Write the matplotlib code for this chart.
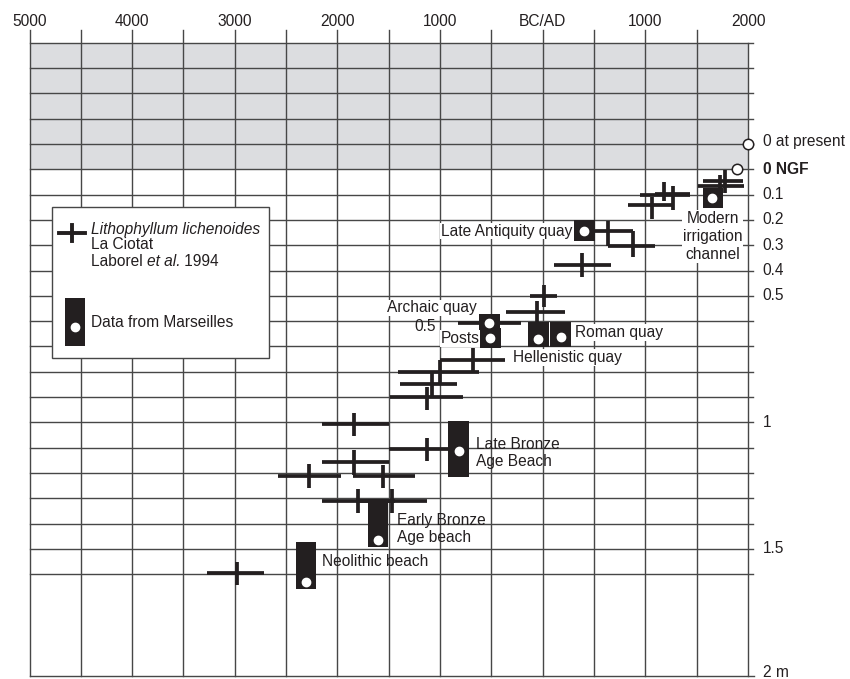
import numpy as np
import matplotlib
matplotlib.use("Agg")
import matplotlib.pyplot as plt
from matplotlib.patches import Rectangle

plt.rcParams['font.family'] = ['Liberation Sans', 'DejaVu Sans']

# ---- Lithophyllum lichenoides, La Ciotat (Laborel et al. 1994) ----
# central date (yr, negative = BC), central depth (m below 0 NGF) and ranges
lith_date = [1181, 1064, 1266, 1775, 1727, 635, 884, 385, 15, -59, -514,
             -677, -1002, -1082, -1131, -1839, -1131, -1839, -2275, -1560,
             -1798, -1472, -2982]
lith_depth = [0.100, 0.141, 0.098, 0.066, 0.046, 0.244, 0.303, 0.378, 0.499,
              0.565, 0.606, 0.753, 0.801, 0.849, 0.901, 1.006, 1.106, 1.155,
              1.212, 1.212, 1.311, 1.311, 1.594]
lith_date_lo = [947, 830, 1093, 1512, 1561, 411, 635, 109, -125, -361, -823,
                -1002, -1408, -1391, -1489, -2154, -1496, -2154, -2577, -1852,
                -2154, -1820, -3269]
lith_date_hi = [1434, 1268, 1434, 1960, 1950, 884, 1093, 662, 141, 216, -215,
                -368, -622, -833, -780, -1496, -904, -1496, -1969, -1245,
                -1440, -1125, -2716]
lith_depth_top = [0.050, 0.109, 0.066, 0.003, 0.023, 0.204, 0.244, 0.332,
                  0.457, 0.519, 0.572, 0.707, 0.753, 0.806, 0.860, 0.962,
                  1.060, 1.109, 1.164, 1.168, 1.264, 1.264, 1.550]
lith_depth_bot = [0.125, 0.196, 0.161, 0.094, 0.121, 0.303, 0.347, 0.424,
                  0.545, 0.602, 0.635, 0.806, 0.848, 0.898, 0.951, 1.054,
                  1.153, 1.208, 1.260, 1.260, 1.357, 1.359, 1.642]

# ---- Data from Marseilles ----
site_names = ["Modern\nirrigation\nchannel", "Late Antiquity quay",
              "Archaic quay", "Posts", "Hellenistic quay", "Roman quay",
              "Late Bronze\nAge Beach", "Early Bronze\nAge beach",
              "Neolithic beach"]
site_date_lo = [1561, 304, -617, -607, -141, 70, -921, -1700, -2404]
site_date_hi = [1756, 508, -417, -410, 60, 272, -722, -1505, -2210]
site_depth_top = [0.074, 0.202, 0.572, 0.628, 0.602, 0.602, 0.994, 1.303, 1.474]
site_depth_bot = [0.153, 0.285, 0.635, 0.707, 0.701, 0.701, 1.215, 1.491, 1.659]
site_dot_date = [1649, 401, -521, -514, -44, 174, -819, -1609, -2307]
site_dot_depth = [0.113, 0.243, 0.608, 0.665, 0.672, 0.664, 1.112, 1.465, 1.632]

# reference levels
ref_labels = ["0 at present", "0 NGF"]
ref_date = [2000, 1895]
ref_depth = [-0.1, 0.0]

# axis labels
top_tick_vals = [-5000, -4000, -3000, -2000, -1000, 0, 1000, 2000]
top_tick_text = ["5000", "4000", "3000", "2000", "1000", "BC/AD", "1000", "2000"]
right_tick_vals = [0.1, 0.2, 0.3, 0.4, 0.5, 1.0, 1.5, 2.0]
right_tick_text = ["0.1", "0.2", "0.3", "0.4", "0.5", "1", "1.5", "2 m"]

INK = "#231f20"
GRID = "#474747"
FS = 11.2

fig = plt.figure(figsize=(8.5, 6.79), dpi=100)
ax = fig.add_axes([29.5 / 850, 3.5 / 679, (748 - 29.5) / 850, (675.5 - 42.7) / 679])
ax.set_xlim(-5000, 2000)
ax.set_ylim(2.0, -0.5)
for s in ax.spines.values():
    s.set_visible(False)
ax.set_xticks([])
ax.set_yticks([])

# shaded band above 0 NGF
ax.axhspan(-0.5, 0.0, color="#dcdde0", zorder=0, lw=0)

# grid: vertical lines every 500 years, horizontal every 0.1 m
tick_up = -0.55
for t in np.arange(-5000, 2001, 500):
    top = -0.5 if t == 2000 else tick_up
    ax.plot([t, t], [2.0, top], color=GRID, lw=1.0, clip_on=False, zorder=1)
for d in np.arange(-0.5, 1.61, 0.1):
    ax.plot([-5000, 2050], [d, d], color=GRID, lw=1.0, clip_on=False, zorder=1)
ax.plot([-5000, 2060], [2.0, 2.0], color=GRID, lw=1.0, clip_on=False, zorder=1)

# top labels
for v, s in zip(top_tick_vals, top_tick_text):
    ax.annotate(s, xy=(v, 1.0), xycoords=("data", "axes fraction"),
                xytext=(0, 15.2), textcoords="offset points",
                ha="center", va="center", fontsize=FS, color=INK)

# right labels
for v, s in zip(right_tick_vals, right_tick_text):
    dy = 2.5 if v == 2.0 else 0
    ax.annotate(s, xy=(1.0, v), xycoords=("axes fraction", "data"),
                xytext=(10.5, dy), textcoords="offset points",
                ha="left", va="center", fontsize=FS, color=INK)
ax.annotate(ref_labels[0], xy=(1.0, ref_depth[0]), xycoords=("axes fraction", "data"),
            xytext=(10.5, 2), textcoords="offset points",
            ha="left", va="center", fontsize=FS, color=INK)
ax.annotate(ref_labels[1], xy=(1.0, ref_depth[1]), xycoords=("axes fraction", "data"),
            xytext=(10.5, 0), textcoords="offset points",
            ha="left", va="center", fontsize=FS, color=INK, fontweight="bold")
ax.plot(ref_date, ref_depth, ls="none", marker="o", ms=7.5, mfc="white",
        mec=INK, mew=1.1, clip_on=False, zorder=7)

# Lithophyllum crosses
ax.hlines(lith_depth, lith_date_lo, lith_date_hi, color=INK, lw=2.7, zorder=3)
ax.vlines(lith_date, lith_depth_top, lith_depth_bot, color=INK, lw=2.7, zorder=3)

# Marseilles blocks with white dots
lo = np.array(site_date_lo)
hi = np.array(site_date_hi)
top = np.array(site_depth_top)
bot = np.array(site_depth_bot)
ax.bar(lo, bot - top, width=hi - lo, bottom=top, align="edge",
       color=INK, lw=0, zorder=4)
ax.plot(site_dot_date, site_dot_depth, ls="none", marker="o", ms=6,
        mfc="white", mec="white", zorder=5)

# site labels: (x, y, ha, multialignment, white background)
label_pos = [
    (1658, 0.266, "center", "center", True),
    (285, 0.244, "right", "right", True),
    (-641, 0.548, "right", "right", True),
    (-617, 0.668, "right", "right", True),
    (-293, 0.744, "left", "left", True),
    (314, 0.646, "left", "left", True),
    (-651, 1.122, "left", "left", False),
    (-1423, 1.421, "left", "left", False),
    (-2154, 1.550, "left", "left", False),
]
for name, (x, y, ha, ma, bg) in zip(site_names, label_pos):
    bbox = dict(facecolor="white", edgecolor="none", pad=0.6) if bg else None
    ls = 1.25 if name.startswith("Modern") else 1.15
    ax.text(x, y, name, ha=ha, va="center", fontsize=FS, color=INK,
            linespacing=ls, multialignment=ma, bbox=bbox, zorder=6)
ax.text(-1041, 0.623, "0.5", ha="right", va="center", fontsize=FS, color=INK, zorder=6)

# legend box
ax.add_patch(Rectangle((-4785, 0.148), 2117, 0.599, facecolor="white",
                       edgecolor=GRID, lw=1.0, zorder=8))
ax.plot([-4714, -4461], [0.250, 0.250], color=INK, lw=2.8, zorder=9)
ax.plot([-4584, -4584], [0.220, 0.282], color=INK, lw=2.8, zorder=9)
ax.text(-4405, 0.237, "Lithophyllum lichenoides", style="italic",
        ha="left", va="center", fontsize=FS, color=INK, zorder=9)
ax.text(-4405, 0.299, "La Ciotat", ha="left", va="center", fontsize=FS,
        color=INK, zorder=9)
t1 = ax.text(-4405, 0.365, "Laborel ", ha="left", va="center", fontsize=FS,
             color=INK, zorder=9)
t2 = ax.annotate("et al.", xy=(1, 0), xycoords=t1, va="bottom", ha="left",
                 fontsize=FS, color=INK, style="italic", zorder=9)
ax.annotate(" 1994", xy=(1, 0), xycoords=t2, va="bottom", ha="left",
            fontsize=FS, color=INK, zorder=9)
ax.add_patch(Rectangle((-4655, 0.507), 194, 0.190, facecolor=INK,
                       edgecolor="none", zorder=9))
ax.plot([-4558], [0.624], ls="none", marker="o", ms=6, mfc="white",
        mec="white", zorder=10)
ax.text(-4405, 0.605, "Data from Marseilles", ha="left", va="center",
        fontsize=FS, color=INK, zorder=9)

fig.savefig("out.png", dpi=100)
